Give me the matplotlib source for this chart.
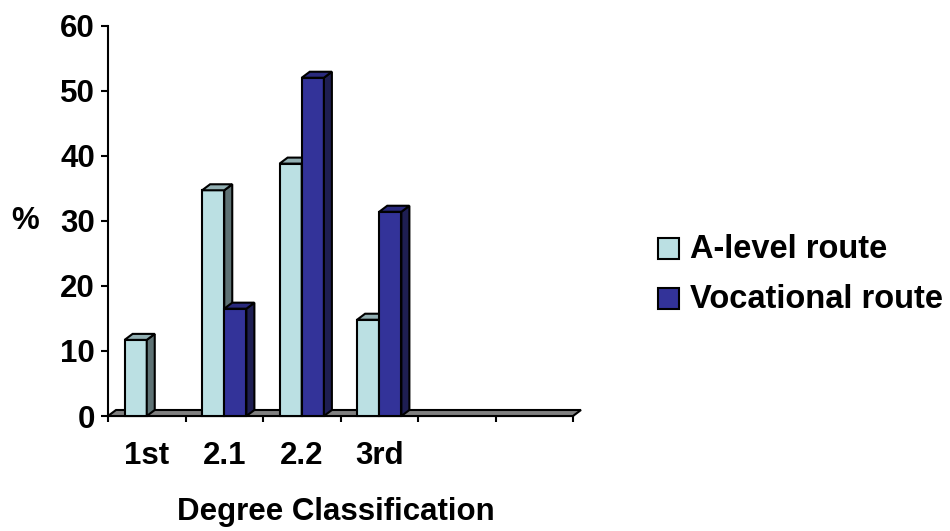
import matplotlib
matplotlib.use('Agg')
import matplotlib.pyplot as plt
from matplotlib.patches import Rectangle, Polygon

# Data (two empty category slots at the end)
categories = ['1st', '2.1', '2.2', '3rd', '', '']
a_level = [11.7, 34.7, 38.8, 14.8, 0, 0]
vocational = [0, 16.5, 52.0, 31.4, 0, 0]
series_names = ['A-level route', 'Vocational route']

# Colours: front, top, side
light = ('#BBE0E3', '#93B0B3', '#5E7274')
dark = ('#333399', '#29297D', '#1E1E52')

plt.rcParams['font.family'] = ['Liberation Sans', 'DejaVu Sans']
plt.rcParams['font.weight'] = 'bold'
FS = 22.5

W, H = 950, 531
fig = plt.figure(figsize=(W / 100, H / 100), dpi=100)

# axes in pixel terms: x 108..573, y 416 (0) .. 25.7 (60)
x0, x1, y0, y1 = 108, 573, 416, 25.7
ax = fig.add_axes([x0 / W, (H - y0) / H, (x1 - x0) / W, (y0 - y1) / H])
ax.set_xlim(0, len(categories))
ax.set_ylim(0, 60)

# 3D depth offset in data units
DX = 8 / ((x1 - x0) / len(categories))
DY = 6 / ((y0 - y1) / 60)

bw = 1 / 3.5  # Excel gap width 150%
lw = 1.5

# floor slab
n = len(categories)
ax.add_patch(Polygon([(0, 0), (n, 0), (n + DX, DY), (DX, DY)], closed=True,
                     facecolor='#808080', edgecolor='black', linewidth=lw,
                     clip_on=False, zorder=1))

z = 2
for i in range(n):
    for vals, cols, off in ((a_level, light, -bw), (vocational, dark, 0)):
        v = vals[i]
        if not v:
            continue
        left = i + 0.5 + off
        ax.bar(left, v, width=bw, align='edge', color=cols[0], edgecolor='black',
               linewidth=lw, zorder=z, clip_on=False)
        right = left + bw
        ax.add_patch(Polygon([(right, 0), (right + DX, DY), (right + DX, v + DY), (right, v)],
                             closed=True, facecolor=cols[2], edgecolor='black',
                             linewidth=lw, zorder=z, clip_on=False))
        ax.add_patch(Polygon([(left, v), (right, v), (right + DX, v + DY), (left + DX, v + DY)],
                             closed=True, facecolor=cols[1], edgecolor='black',
                             linewidth=lw, zorder=z, clip_on=False))
        z += 1

# axes styling
for s in ('top', 'right'):
    ax.spines[s].set_visible(False)
ax.spines['left'].set_linewidth(lw)
ax.spines['bottom'].set_linewidth(lw)
ax.spines['bottom'].set_zorder(0)

ax.set_yticks(range(0, 61, 10))
ax.tick_params(axis='y', direction='out', length=5, width=lw, pad=4.5, labelsize=FS)
for t in ax.get_yticklabels():
    t.set_fontweight('bold')

ax.set_xticks(range(0, n + 1))
ax.set_xticklabels([])
ax.tick_params(axis='x', which='major', direction='out', length=4.5, width=lw)
ax.set_xticks([i + 0.5 for i in range(n)], minor=True)
ax.set_xticklabels(categories, minor=True, fontsize=FS, fontweight='bold')
ax.tick_params(axis='x', which='minor', length=0, pad=18)

# axis titles
fig.text(336 / W, 1 - 520 / H, 'Degree Classification', ha='center', va='baseline',
         fontsize=FS, fontweight='bold')
fig.text(25.5 / W, 1 - 221 / H, '%', ha='center', va='center',
         fontsize=FS, fontweight='bold')

# legend
for k, (name, cols) in enumerate(zip(series_names, (light, dark))):
    top = 238 + k * 50
    fig.patches.append(Rectangle((658 / W, 1 - (top + 21) / H), 21 / W, 21 / H,
                                 transform=fig.transFigure, facecolor=cols[0],
                                 edgecolor='black', linewidth=lw))
    fig.text(690 / W, 1 - (top + 20.5) / H, name, ha='left', va='baseline',
             fontsize=FS + 1, fontweight='bold')

fig.savefig('out.png', dpi=100)
